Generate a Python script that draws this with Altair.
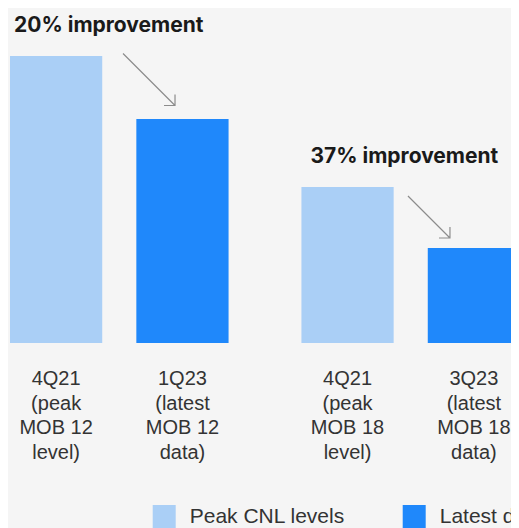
import altair as alt
import pandas as pd

groups = ["MOB 12", "MOB 18"]
series = ["Peak CNL levels", "Latest data"]
values = [287, 224, 156, 95]
bar_labels = [
    "4Q21\n(peak\nMOB 12\nlevel)",
    "1Q23\n(latest\nMOB 12\ndata)",
    "4Q21\n(peak\nMOB 18\nlevel)",
    "3Q23\n(latest\nMOB 18\ndata)",
]
titles = ["20% improvement", "37% improvement"]
peaks = [287, 156]
arrow_from = [292, 148]
arrow_to = [235, 104]
colors = ["#aacff6", "#1f88fb"]

df = pd.DataFrame({
    "group": [g for g in groups for _ in series],
    "type": series * 2,
    "value": values,
    "base": [0] * 4,
    "label": bar_labels,
})

xscale = alt.Scale(domain=groups, range=[2, 512], paddingInner=0.25, paddingOuter=0)
yscale = alt.Scale(domain=[0, 335], range=[335, 0])
x = alt.X("group:N", axis=None, scale=xscale, sort=groups)
xo = alt.XOffset("type:N", sort=series, scale=alt.Scale(domain=series, paddingInner=0.27, paddingOuter=0))
y = alt.Y("value:Q", axis=None, scale=yscale)

bars = alt.Chart(df).mark_bar().encode(
    x=x, xOffset=xo, y=y,
    color=alt.Color("type:N", sort=series,
                    scale=alt.Scale(domain=series, range=colors),
                    legend=alt.Legend(orient="none", legendX=144.7, legendY=497,
                                      direction="horizontal", title=None,
                                      symbolType="square", symbolSize=529,
                                      symbolStrokeWidth=0, symbolOpacity=1,
                                      labelFontSize=21, labelFont="Liberation Sans",
                                      labelColor="#333333", labelOffset=14,
                                      columnPadding=57, labelLimit=400, padding=0)),
)

labels = alt.Chart(df).mark_text(
    dy=42, baseline="alphabetic", lineBreak="\n", lineHeight=24.5,
    fontSize=20, font="Liberation Sans", color="#333333"
).encode(x=x, xOffset=xo, y=alt.Y("base:Q", axis=None, scale=yscale), text="label:N")

layers = [bars, labels]

# arrow drawn as a single symbol centred between its two ends
bstart = [0.517, 0.492]
bend = [0.755, 0.675]
half = [26, 21]
tdx = [4, 9]
for i in range(2):
    d = pd.DataFrame({"group": [groups[i]], "title": [titles[i]], "peak": [peaks[i]],
                      "ymid": [(arrow_from[i] + arrow_to[i]) / 2]})
    layers.append(alt.Chart(d).mark_text(
        align="left", baseline="alphabetic", dx=tdx[i], dy=-24,
        fontSize=21, fontWeight="bold", font="Inter", color="#1a1a1a"
    ).encode(x=alt.X("group:N", bandPosition=0, axis=None, scale=xscale),
             y=alt.Y("peak:Q", axis=None, scale=yscale), text="title:N"))
    a = 11 / half[i]
    path = f"M-1,-1L1,1M{1 - a:.3f},1L1,1L1,{1 - a:.3f}"
    layers.append(alt.Chart(d).mark_point(
        shape=path, filled=False, size=(2 * half[i]) ** 2,
        strokeWidth=1.2, color="#8c8c8c", opacity=1
    ).encode(x=alt.X("group:N", bandPosition=(bstart[i] + bend[i]) / 2, axis=None, scale=xscale),
             y=alt.Y("ymid:Q", axis=None, scale=yscale)))

chart = alt.layer(*layers).properties(
    width=503, height=520, padding=0, autosize="none", background="#f5f5f5"
).configure_view(stroke=None)

chart.save("out.html", embed_options={"renderer": "svg", "actions": False})
